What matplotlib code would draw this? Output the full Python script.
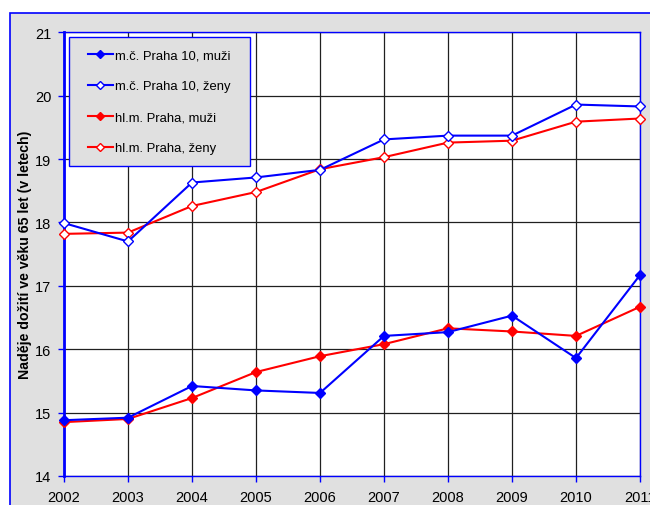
import matplotlib
matplotlib.use("Agg")
import matplotlib.pyplot as plt
from matplotlib.patches import Rectangle

years = [2002, 2003, 2004, 2005, 2006, 2007, 2008, 2009, 2010, 2011]
p10_muzi = [14.88, 14.92, 15.42, 15.35, 15.31, 16.21, 16.27, 16.53, 15.86, 17.17]
p10_zeny = [17.99, 17.70, 18.63, 18.71, 18.83, 19.31, 19.37, 19.37, 19.86, 19.83]
praha_muzi = [14.85, 14.90, 15.23, 15.64, 15.89, 16.08, 16.33, 16.28, 16.21, 16.67]
praha_zeny = [17.82, 17.84, 18.26, 18.48, 18.84, 19.03, 19.26, 19.29, 19.59, 19.64]
labels = ["m.č. Praha 10, muži", "m.č. Praha 10, ženy", "hl.m. Praha, muži", "hl.m. Praha, ženy"]
y_ticks = [14, 15, 16, 17, 18, 19, 20, 21]
ylabel = "Naděje dožití ve věku 65 let (v letech)"

plt.rcParams['font.family'] = ['Liberation Sans', 'DejaVu Sans']

fig = plt.figure(figsize=(6.5, 5.06), dpi=100)
fig.patch.set_facecolor('white')
panel = Rectangle((10/650, -0.1), 1.2, (506-14)/506 + 0.1, transform=fig.transFigure,
                  facecolor='#E0E0E0', edgecolor='#0000FF', linewidth=1.2, zorder=-10)
fig.patches.append(panel)

ax = fig.add_axes([64/650, (506-477)/506, 576/650, (477-33.3)/506])
ax.set_zorder(5)
ax.set_facecolor('white')

blue = '#0000FF'
red = '#FF0000'
ms = 5.5
ax.plot(years, p10_muzi, color=blue, lw=1.5, marker='D', ms=ms, mfc=blue, mec=blue, label=labels[0], zorder=5, clip_on=False)
ax.plot(years, p10_zeny, color=blue, lw=1.5, marker='D', ms=ms, mfc='white', mec=blue, label=labels[1], zorder=5, clip_on=False)
ax.plot(years, praha_muzi, color=red, lw=1.5, marker='D', ms=ms, mfc=red, mec=red, label=labels[2], zorder=4, clip_on=False)
ax.plot(years, praha_zeny, color=red, lw=1.5, marker='D', ms=ms, mfc='white', mec=red, label=labels[3], zorder=4, clip_on=False)

ax.set_xlim(2002, 2011)
ax.set_ylim(14, 21)
ax.set_xticks(years)
ax.set_yticks(y_ticks)
ax.grid(True, color='#202020', lw=0.9)
ax.set_axisbelow(True)
for s in ['top', 'right', 'bottom']:
    ax.spines[s].set_color(blue)
    ax.spines[s].set_linewidth(1.0)
ax.spines['left'].set_color(blue)
ax.spines['left'].set_linewidth(2.0)
ax.tick_params(axis='both', colors=blue, labelcolor='black', labelsize=10.5, length=4, width=1)
ax.tick_params(axis='x', pad=6)
ax.tick_params(axis='y', pad=5)
ax.set_ylabel(ylabel, fontsize=10.2, fontweight='bold', labelpad=2)

# legend box
box = Rectangle(((69-64)/576, (477-167)/443.7), 181/576, 129/443.7, transform=ax.transAxes,
                facecolor='#E0E0E0', edgecolor=blue, linewidth=1.0, zorder=9, clip_on=False)
ax.add_patch(box)
leg = ax.legend(loc='upper left', bbox_to_anchor=((88-64)/576, (477-50)/443.7), borderaxespad=0,
                fontsize=9.4, handlelength=1.9, labelspacing=1.45, handletextpad=0.15,
                borderpad=0, frameon=False, markerscale=0.8)
leg.set_zorder(10)

fig.savefig('out.png', dpi=100, facecolor=fig.get_facecolor())
